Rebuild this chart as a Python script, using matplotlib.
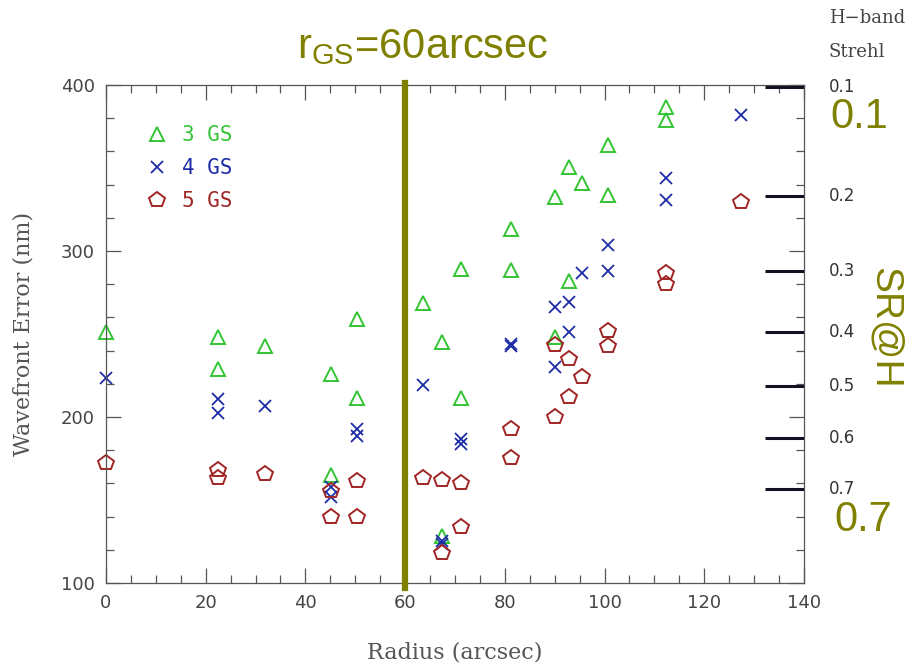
import numpy as np
import matplotlib
matplotlib.use('Agg')
import matplotlib.pyplot as plt
from matplotlib.ticker import MultipleLocator

# data: radius (arcsec), wavefront error (nm)
gs3_r = [0, 22.5, 22.5, 31.9, 45.1, 45.1, 50.3, 50.3, 63.6, 67.5, 67.5, 71.2, 71.2,
         81.2, 81.2, 90.1, 90.1, 92.9, 92.9, 95.5, 100.7, 100.7, 112.4, 112.4]
gs3_wfe = [251, 248, 229, 242.5, 226, 165, 259, 211.5, 268.5, 245, 128, 289, 211.5,
           313.5, 288.5, 332.5, 248, 350.8, 282, 341, 364, 333.5, 387, 379]

gs4_r = [0, 22.5, 22.5, 31.9, 45.1, 45.1, 50.3, 50.3, 63.6, 67.5, 67.5, 71.2, 71.2,
         81.2, 81.2, 90.1, 90.1, 92.9, 92.9, 95.5, 100.7, 100.7, 112.4, 112.4, 127.3]
gs4_wfe = [223.5, 211, 202.5, 206.5, 158, 152, 193, 188.5, 219.5, 125, 123.5, 187, 184,
           244, 243, 266.5, 230, 269, 251, 287, 303.5, 288, 344, 330.5, 382]

gs5_r = [0, 22.5, 22.5, 31.9, 45.1, 45.1, 50.3, 50.3, 63.6, 67.5, 67.5, 71.2, 71.2,
         81.2, 81.2, 90.1, 90.1, 92.9, 92.9, 95.5, 100.7, 100.7, 112.4, 112.4, 127.3]
gs5_wfe = [172, 168, 163.5, 165.5, 155.5, 139.5, 161.5, 139.5, 163.5, 162, 118, 160.5, 133.5,
           193, 175, 243.5, 200, 235, 212, 224, 252, 243, 287, 280, 329.5]

# H-band Strehl levels and the wavefront error each corresponds to
strehl_labels = ['0.1', '0.2', '0.3', '0.4', '0.5', '0.6', '0.7']
strehl_wfe = [398.6, 333, 288, 251, 218.5, 187.6, 156.6]

r_gs = 60

OLIVE = '#808000'
GREY = '#555555'
NARROW = ['Liberation Sans Narrow', 'Liberation Sans', 'DejaVu Sans']

fig = plt.figure(figsize=(9.08, 6.63), dpi=100)
ax = fig.add_axes([0.1167, 0.1207, 0.7687, 0.7511])

ax.plot(gs3_r, gs3_wfe, '^', ms=10.5, mfc='none', mec='#33c433', mew=1.4, label='3 GS', clip_on=False)
ax.plot(gs4_r, gs4_wfe, 'x', ms=8.5, mec='#1c2ca6', mew=1.3, label='4 GS', clip_on=False)
ax.plot(gs5_r, gs5_wfe, 'p', ms=11.5, mfc='none', mec='#a12525', mew=1.4, label='5 GS', clip_on=False)

ax.axvline(r_gs, ymin=-0.01, ymax=1.004, color=OLIVE, lw=4.5, clip_on=False, zorder=3)
ax.hlines(strehl_wfe, 132.2, 140, color='#111122', lw=2.2, zorder=3)

ax.set_xlim(0, 140)
ax.set_ylim(100, 400)
ax.xaxis.set_major_locator(MultipleLocator(20))
ax.xaxis.set_minor_locator(MultipleLocator(5))
ax.yaxis.set_major_locator(MultipleLocator(100))
ax.yaxis.set_minor_locator(MultipleLocator(20))
ax.tick_params(which='both', direction='in', top=True, right=True, color=GREY, width=0.9)
ax.tick_params(which='major', length=11, labelsize=13, labelcolor='#444444', pad=8)
ax.tick_params(which='minor', length=5.5)
for s in ax.spines.values():
    s.set_color(GREY)
    s.set_linewidth(0.9)

ax.set_xlabel('Radius (arcsec)', family='DejaVu Serif', fontsize=16, color=GREY, labelpad=21)
ax.set_ylabel('Wavefront Error (nm)', family='DejaVu Serif', fontsize=16, color=GREY, labelpad=19)

ax.legend(loc='upper left', bbox_to_anchor=(0.0577, 0.919), frameon=False, numpoints=1,
          handlelength=1.0, handletextpad=0.7, labelspacing=0.62, borderpad=0, borderaxespad=0,
          labelcolor='markeredgecolor', prop={'family': 'DejaVu Sans Mono', 'size': 15})

# Strehl scale on the right
trans = ax.get_yaxis_transform()
for lab, w in zip(strehl_labels, strehl_wfe):
    ax.text(1.036, w, lab, transform=trans, ha='left', va='center', fontsize=12, color='#333333')
fig.text(829 / 908, 1 - 18 / 663, 'H\u2212band', family='DejaVu Serif', fontsize=13,
         color='#444444', ha='left', va='center')
fig.text(829 / 908, 1 - 52 / 663, 'Strehl', family='DejaVu Serif', fontsize=13,
         color='#444444', ha='left', va='center')

fig.text(859 / 908, 1 - 117 / 663, '0.1', family=NARROW, fontsize=30, color=OLIVE, ha='center', va='center')
fig.text(863 / 908, 1 - 520 / 663, '0.7', family=NARROW, fontsize=30, color=OLIVE, ha='center', va='center')
fig.text(885 / 908, 1 - 328 / 663, 'SR@H', family=NARROW, fontsize=28, color=OLIVE,
         rotation=270, ha='center', va='center')

fig.text(423 / 908, 1 - 58 / 663, r'r$_{\mathregular{GS}}$=60arcsec', family=NARROW, fontsize=30,
         color=OLIVE, ha='center', va='baseline')

fig.savefig('out.png', dpi=100)
